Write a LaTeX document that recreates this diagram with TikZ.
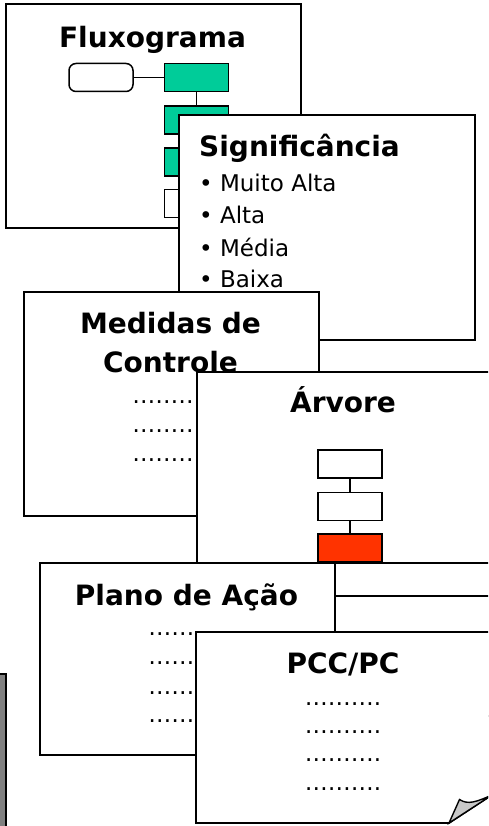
\documentclass[tikz,border=0pt]{standalone}
\usepackage{fontspec}
\setmainfont{DejaVu Sans}
\definecolor{flgreen}{RGB}{0,204,153}
\definecolor{flred}{RGB}{255,51,0}
\definecolor{flgray}{RGB}{128,128,128}
\definecolor{foldgray}{RGB}{200,200,200}
\begin{document}
\begin{tikzpicture}[x=1pt,y=-1pt,
  card/.style={draw=black, fill=white, line width=1.8pt, inner sep=0pt, anchor=north west},
  ttl/.style={font=\bfseries\fontsize{28}{30}\selectfont, anchor=base, inner sep=0pt},
  txt/.style={font=\fontsize{23}{25}\selectfont, anchor=base, inner sep=0pt},
  bul/.style={font=\fontsize{23}{25}\selectfont, anchor=base west, inner sep=0pt},
  mini/.style={draw=black, line width=1.5pt, minimum width=64pt, minimum height=28pt, inner sep=0pt},
  link/.style={line width=1.4pt}]
\useasboundingbox (0,0) rectangle (488,826);
\clip (0,0) rectangle (488,826);
\fill[white] (0,0) rectangle (488,826);

% Fluxograma card
\node[card, minimum width=295pt, minimum height=224pt] (flux) at (5,3) {};
\node[ttl] (fluxt) at (152.5,48) {Fluxograma};
\node[mini, rounded corners=7pt, fill=white] (f0) at (101,77.5) {};
\node[mini, fill=flgreen] (f1) at (196.5,77.5) {};
\node[mini, fill=flgreen] (f2) at (196.5,120) {};
\node[mini, fill=flgreen] (f3) at (196.5,162) {};
\node[mini, fill=white] (f4) at (196.5,203.5) {};
\draw[link] (f0) -- (f1);
\draw[link] (f1) -- (f2);
\draw[link] (f2) -- (f3);
\draw[link] (f3) -- (f4);

% Significancia card
\node[card, minimum width=296pt, minimum height=225pt] (sig) at (178,114) {};
\node[ttl, anchor=base west] (sigt) at (199,157) {Significância};
\node[bul] (s1) at (199,192) {• Muito Alta};
\node[bul] (s2) at (199,223) {• Alta};
\node[bul] (s3) at (199,256) {• Média};
\node[bul] (s4) at (199,287) {• Baixa};

% Medidas de Controle card
\node[card, minimum width=295pt, minimum height=224pt] (med) at (23,291) {};
\node[ttl] (medt1) at (170.5,333) {Medidas de};
\node[ttl] (medt2) at (170.5,372) {Controle};
\node[txt] (m1) at (170.5,403) {……….};
\node[txt] (m2) at (170.5,432) {……….};
\node[txt] (m3) at (170.5,461) {……….};

% Arvore card
\node[card, minimum width=296pt, minimum height=191pt] (arv) at (196,371) {};
\node[ttl] (arvt) at (343,412) {Árvore};
\node[mini, fill=white] (a1) at (350,464) {};
\node[mini, fill=white] (a2) at (350,506.5) {};
\node[mini, fill=flred] (a3) at (350,548) {};
\draw[link] (a1) -- (a2);
\draw[link] (a2) -- (a3);

% hidden card behind
\node[card, minimum width=200pt, minimum height=120pt] (hid) at (300,595) {};

% Plano de Acao card
\node[card, minimum width=295pt, minimum height=192pt] (pla) at (39,562) {};
\node[ttl] (plat) at (186.5,605) {Plano de Ação};
\node[txt] (p1) at (186.5,635) {……….};
\node[txt] (p2) at (186.5,664) {……….};
\node[txt] (p3) at (186.5,694) {……….};
\node[txt] (p4) at (186.5,722) {……….};

% left gray card
\filldraw[fill=flgray, draw=black, line width=1.8pt] (-10,674) rectangle (6,840);

% PCC/PC card with folded corner
\filldraw[fill=white, draw=black, line width=1.8pt]
  (196,632) -- (500,632) -- (500,789.5) -- (449,823) -- (196,823) -- cycle;
\filldraw[fill=foldgray, draw=black, line width=1.4pt]
  (449,823) -- (459.5,799.5) .. controls (468,805) and (476,802) .. (492,795) -- cycle;
\node[ttl] (pcct) at (343,673) {PCC/PC};
\node[txt] (c1) at (343,705) {……….};
\node[txt] (c2) at (343,733) {……….};
\node[txt] (c3) at (343,761) {……….};
\node[txt] (c4) at (343,790) {……….};
\end{tikzpicture}
\end{document}
